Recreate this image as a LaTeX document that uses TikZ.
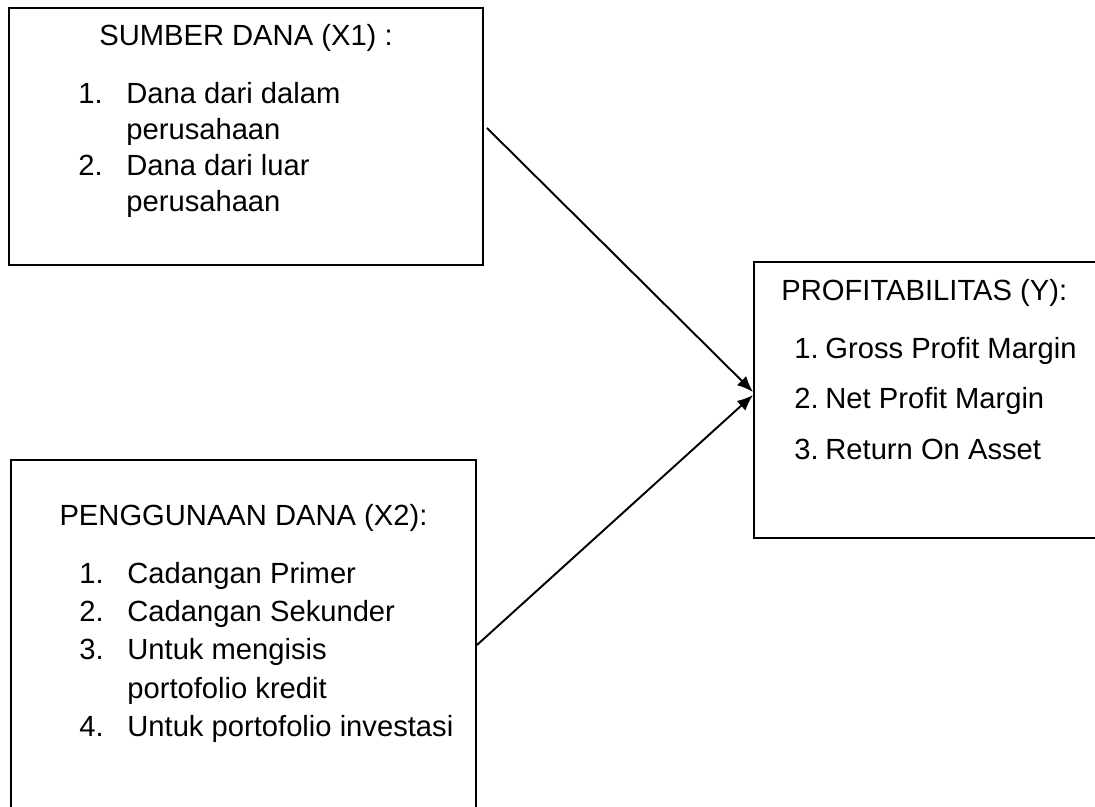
\documentclass[tikz,border=0pt]{standalone}
\usepackage{fontspec}
\setmainfont{Liberation Sans}
\usetikzlibrary{calc,positioning}
\usetikzlibrary{arrows.meta}

\begin{document}
\begin{tikzpicture}[
  varbox/.style={draw,rectangle,line width=1.1pt,inner sep=0pt},
  boxtitle/.style={inner sep=0pt,font=\fontsize{16.6}{20.5}\selectfont},
  boxlist/.style={inner sep=0pt,anchor=base west},
  link/.style={-{Latex[length=0.32cm,width=0.26cm]},line width=1.1pt}]
\useasboundingbox(0,0)rectangle(21.9,16.14);
\clip(0,0)rectangle(21.9,16.14);
% the three variable boxes
\node[varbox,minimum width=9.48cm,minimum height=5.14cm](x1) at(4.92,13.41){};
\node[varbox,minimum width=9.3cm,minimum height=7.4cm](x2) at(4.87,3.24){};
\node[varbox,minimum width=7.32cm,minimum height=5.52cm](y) at(18.74,8.14){};
% titles
\node[boxtitle,anchor=base](t1) at([yshift=-0.76cm]x1.north){SUMBER DANA (X1) :};
\node[boxtitle,anchor=base](t2) at([yshift=-1.32cm]x2.north){PENGGUNAAN DANA (X2):};
\node[boxtitle,anchor=base west](t3) at([xshift=0.56cm,yshift=-0.78cm]y.north west){PROFITABILITAS (Y):};
% indicator lists
\node[boxlist,font=\fontsize{16.6}{20.5}\selectfont](l1) at([xshift=1.40cm,yshift=-1.92cm]x1.north west){%
\begin{tabular}[t]{@{}p{0.96cm}@{}l@{}}
1. & Dana dari dalam\\
   & perusahaan\\
2. & Dana dari luar\\
   & perusahaan
\end{tabular}};
\node[boxlist,font=\fontsize{16.6}{21.9}\selectfont](l2) at([xshift=1.38cm,yshift=-2.48cm]x2.north west){%
\begin{tabular}[t]{@{}p{0.96cm}@{}l@{}}
1. & Cadangan Primer\\
2. & Cadangan Sekunder\\
3. & Untuk mengisis\\
   & portofolio kredit\\
4. & Untuk portofolio investasi
\end{tabular}};
\node[boxlist,font=\fontsize{16.6}{29}\selectfont](l3) at([xshift=0.82cm,yshift=-1.94cm]y.north west){%
\begin{tabular}[t]{@{}p{0.62cm}@{}l@{}}
1. & Gross Profit Margin\\
2. & Net Profit Margin\\
3. & Return On Asset
\end{tabular}};
% arrows
\draw[link]([xshift=0.06cm,yshift=0.17cm]x1.east)--([yshift=0.16cm]y.west);
\draw[link](x2.east)--([yshift=0.1cm]y.west);
\end{tikzpicture}
\end{document}
